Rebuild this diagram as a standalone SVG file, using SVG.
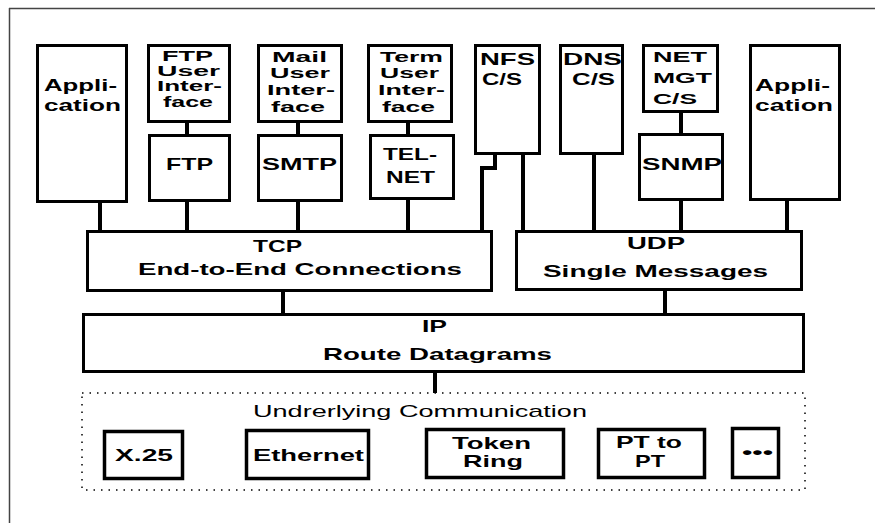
<svg xmlns="http://www.w3.org/2000/svg" width="875" height="523" viewBox="0 0 875 523">
<style>
.box{fill:#fff;stroke:#000;stroke-width:3}
.sm{fill:#fff;stroke:#000;stroke-width:3.5}
.t{font-family:"Liberation Sans",Arial,sans-serif;font-weight:bold;font-size:17px;fill:#000}
.u{font-family:"Liberation Sans",Arial,sans-serif;font-weight:bold;font-size:14.5px;fill:#000}
.r{font-family:"Liberation Sans",Arial,sans-serif;font-size:17px;fill:#000}
.c{fill:none;stroke:#000;stroke-width:4}
</style>
<rect x="0" y="0" width="875" height="523" fill="#fff"/>
<g id="frame" stroke="#444" stroke-width="1.5" fill="none">
<line x1="9" y1="8.5" x2="875" y2="8.5"/>
<line x1="9.5" y1="8" x2="9.5" y2="523"/>
</g>
<g id="connectors">
<line class="c" x1="100" y1="202" x2="100" y2="231"/>
<line class="c" x1="187" y1="122" x2="187" y2="134"/>
<line class="c" x1="187" y1="202" x2="187" y2="231"/>
<line class="c" x1="298" y1="122" x2="298" y2="134"/>
<line class="c" x1="298" y1="202" x2="298" y2="231"/>
<line class="c" x1="408" y1="122" x2="408" y2="134"/>
<line class="c" x1="408" y1="200" x2="408" y2="231"/>
<path class="c" d="M495 155 V168 H482 V231"/>
<line class="c" x1="523" y1="155" x2="523" y2="231"/>
<line class="c" x1="594" y1="155" x2="594" y2="231"/>
<line class="c" x1="681" y1="113" x2="681" y2="133"/>
<line class="c" x1="681" y1="200" x2="681" y2="231"/>
<line class="c" x1="787" y1="201" x2="787" y2="231"/>
<line class="c" x1="283" y1="292" x2="283" y2="314"/>
<line class="c" x1="665" y1="291" x2="665" y2="314"/>
<line class="c" x1="435" y1="372" x2="435" y2="393"/>
</g>
<g id="app1"><rect class="box" x="37.5" y="45.5" width="89" height="156"/>
<text class="t" font-size="18" x="44" y="91" textLength="73" lengthAdjust="spacingAndGlyphs">Appli-</text>
<text class="t" font-size="18" x="44" y="111" textLength="77" lengthAdjust="spacingAndGlyphs">cation</text></g>
<g id="ftpui"><rect class="box" x="148.5" y="45.5" width="81" height="76"/>
<text class="u" x="162" y="61" textLength="51" lengthAdjust="spacingAndGlyphs">FTP</text>
<text class="u" x="157" y="76" textLength="63" lengthAdjust="spacingAndGlyphs">User</text>
<text class="u" x="157" y="91" textLength="65" lengthAdjust="spacingAndGlyphs">Inter-</text>
<text class="u" x="163" y="107" textLength="50" lengthAdjust="spacingAndGlyphs">face</text></g>
<g id="ftp"><rect class="box" x="149.5" y="135.5" width="80" height="65"/>
<text class="t" x="166" y="170" textLength="47" lengthAdjust="spacingAndGlyphs">FTP</text></g>
<g id="mailui"><rect class="box" x="258.5" y="45.5" width="83" height="76"/>
<text class="u" x="272" y="62" textLength="55" lengthAdjust="spacingAndGlyphs">Mail</text>
<text class="u" x="270" y="78" textLength="60" lengthAdjust="spacingAndGlyphs">User</text>
<text class="u" x="267" y="95" textLength="68" lengthAdjust="spacingAndGlyphs">Inter-</text>
<text class="u" x="271" y="112" textLength="54" lengthAdjust="spacingAndGlyphs">face</text></g>
<g id="smtp"><rect class="box" x="258.5" y="135.5" width="83" height="65"/>
<text class="t" x="262" y="170" textLength="75" lengthAdjust="spacingAndGlyphs">SMTP</text></g>
<g id="termui"><rect class="box" x="368.5" y="45.5" width="83" height="76"/>
<text class="u" x="380" y="62" textLength="63" lengthAdjust="spacingAndGlyphs">Term</text>
<text class="u" x="380" y="78" textLength="59" lengthAdjust="spacingAndGlyphs">User</text>
<text class="u" x="378" y="95" textLength="67" lengthAdjust="spacingAndGlyphs">Inter-</text>
<text class="u" x="382" y="112" textLength="53" lengthAdjust="spacingAndGlyphs">face</text></g>
<g id="telnet"><rect class="box" x="370.5" y="135.5" width="83" height="63"/>
<text class="t" x="383" y="160" textLength="54" lengthAdjust="spacingAndGlyphs">TEL-</text>
<text class="t" x="386" y="183" textLength="49" lengthAdjust="spacingAndGlyphs">NET</text></g>
<g id="nfs"><rect class="box" x="475.5" y="45.5" width="64" height="108"/>
<text class="t" x="480" y="65" textLength="55" lengthAdjust="spacingAndGlyphs">NFS</text>
<text class="t" x="482" y="85" textLength="40" lengthAdjust="spacingAndGlyphs">C/S</text></g>
<g id="dns"><rect class="box" x="560.5" y="45.5" width="62" height="108"/>
<text class="t" x="563" y="65" textLength="59" lengthAdjust="spacingAndGlyphs">DNS</text>
<text class="t" x="572" y="85" textLength="43" lengthAdjust="spacingAndGlyphs">C/S</text></g>
<g id="netmgt"><rect class="box" x="643.5" y="45.5" width="74" height="66"/>
<text class="u" font-size="16" x="653" y="62" textLength="54" lengthAdjust="spacingAndGlyphs">NET</text>
<text class="u" font-size="16" x="653" y="83" textLength="59" lengthAdjust="spacingAndGlyphs">MGT</text>
<text class="u" font-size="16" x="653" y="104" textLength="44" lengthAdjust="spacingAndGlyphs">C/S</text></g>
<g id="snmp"><rect class="box" x="639.5" y="134.5" width="83" height="65"/>
<text class="t" x="642" y="170" textLength="80" lengthAdjust="spacingAndGlyphs">SNMP</text></g>
<g id="app2"><rect class="box" x="750.5" y="45.5" width="89" height="154"/>
<text class="t" font-size="18" x="755" y="91" textLength="75" lengthAdjust="spacingAndGlyphs">Appli-</text>
<text class="t" font-size="18" x="755" y="111" textLength="78" lengthAdjust="spacingAndGlyphs">cation</text></g>
<g id="tcp"><rect class="box" x="87.5" y="231.5" width="404" height="59"/>
<text class="t" x="253" y="252" textLength="49" lengthAdjust="spacingAndGlyphs">TCP</text>
<text class="t" x="138" y="275" textLength="324" lengthAdjust="spacingAndGlyphs">End-to-End  Connections</text></g>
<g id="udp"><rect class="box" x="516.5" y="231.5" width="285" height="58"/>
<text class="t" x="627" y="249" textLength="58" lengthAdjust="spacingAndGlyphs">UDP</text>
<text class="t" x="543" y="277" textLength="225" lengthAdjust="spacingAndGlyphs">Single Messages</text></g>
<g id="ip"><rect class="box" x="83.5" y="314.5" width="720" height="57"/>
<text class="t" x="422" y="332" textLength="25" lengthAdjust="spacingAndGlyphs">IP</text>
<text class="t" x="323" y="360" textLength="229" lengthAdjust="spacingAndGlyphs">Route Datagrams</text></g>
<g id="underlying"><rect x="82" y="393" width="723" height="97" fill="none" stroke="#000" stroke-width="1.5" stroke-dasharray="1.5 6"/>
<text class="r" x="253" y="417" textLength="334" lengthAdjust="spacingAndGlyphs">Undrerlying Communication</text></g>
<g id="x25"><rect class="sm" x="104.5" y="431.5" width="78" height="47"/>
<text class="t" x="115" y="461" textLength="58" lengthAdjust="spacingAndGlyphs">X.25</text></g>
<g id="ethernet"><rect class="sm" x="246.5" y="430.5" width="122" height="48"/>
<text class="t" x="253" y="461" textLength="111" lengthAdjust="spacingAndGlyphs">Ethernet</text></g>
<g id="tokenring"><rect class="sm" x="426.5" y="429.5" width="137" height="48"/>
<text class="t" font-size="15.5" x="452" y="449" textLength="79" lengthAdjust="spacingAndGlyphs">Token</text>
<text class="t" font-size="15.5" x="463" y="467" textLength="60" lengthAdjust="spacingAndGlyphs">Ring</text></g>
<g id="pttopt"><rect class="sm" x="598.5" y="429.5" width="106" height="48"/>
<text class="t" font-size="16" x="616" y="448" textLength="66" lengthAdjust="spacingAndGlyphs">PT to</text>
<text class="t" font-size="16" x="635" y="467" textLength="30" lengthAdjust="spacingAndGlyphs">PT</text></g>
<g id="more"><rect class="sm" x="732.5" y="428.5" width="46" height="49"/>
<text class="t" x="742" y="458" textLength="31" lengthAdjust="spacingAndGlyphs">•••</text></g>
</svg>
